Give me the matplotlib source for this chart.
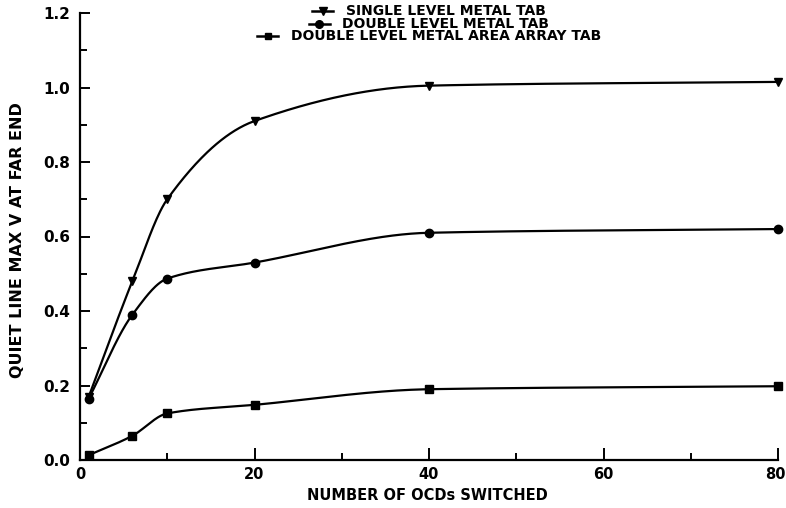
import numpy as np
import matplotlib
matplotlib.use("Agg")
import matplotlib.pyplot as plt
from matplotlib.lines import Line2D
from matplotlib.transforms import ScaledTranslation
from matplotlib.offsetbox import (AnchoredOffsetbox, DrawingArea, HPacker,
                                  TextArea, VPacker)

# Number of OCDs switched and quiet-line peak voltage at the far end
ocds = [1, 6, 10, 20, 40, 80]
single_level = [0.17, 0.48, 0.70, 0.91, 1.005, 1.015]
double_level = [0.165, 0.39, 0.487, 0.53, 0.61, 0.62]
area_array = [0.013, 0.065, 0.125, 0.148, 0.19, 0.198]

series_labels = ["SINGLE LEVEL METAL TAB",
                 "DOUBLE LEVEL METAL TAB",
                 "DOUBLE LEVEL METAL AREA ARRAY TAB"]
series_markers = ["v", "o", "s"]

x_ticks = [0, 20, 40, 60, 80]
y_ticks = [0.0, 0.2, 0.4, 0.6, 0.8, 1.0, 1.2]

FONT = dict(family="DejaVu Sans", weight="bold")


def pchip(x, y, xs):
    """Monotone cubic (Fritsch-Carlson) curve through the measured points."""
    x = np.asarray(x, float)
    y = np.asarray(y, float)
    h = np.diff(x)
    d = np.diff(y) / h
    m = np.zeros_like(y)
    for k in range(1, len(x) - 1):
        if d[k - 1] * d[k] > 0:
            w1 = 2 * h[k] + h[k - 1]
            w2 = h[k] + 2 * h[k - 1]
            m[k] = (w1 + w2) / (w1 / d[k - 1] + w2 / d[k])
    m[0] = d[0]
    m[-1] = d[-1]
    idx = np.clip(np.searchsorted(x, xs) - 1, 0, len(x) - 2)
    t = (xs - x[idx]) / h[idx]
    h00 = 2 * t**3 - 3 * t**2 + 1
    h10 = t**3 - 2 * t**2 + t
    h01 = -2 * t**3 + 3 * t**2
    h11 = t**3 - t**2
    return (h00 * y[idx] + h10 * h[idx] * m[idx]
            + h01 * y[idx + 1] + h11 * h[idx] * m[idx + 1])


fig = plt.figure(figsize=(7.86, 5.08), dpi=100)
ax = fig.add_axes([80 / 786, 48 / 508, 698 / 786, 447 / 508])

xs = np.linspace(ocds[0], ocds[-1], 600)
for vals, mk in zip([single_level, double_level, area_array], series_markers):
    ax.plot(xs, pchip(ocds, vals, xs), color="black", lw=1.6,
            solid_capstyle="round", clip_on=False)
    ax.plot(ocds, vals, linestyle="none", marker=mk, color="black",
            markersize=6 if mk != "s" else 5.5, clip_on=False)

ax.set_xlim(0, 80)
ax.set_ylim(0, 1.2)
for side in ("top", "right"):
    ax.spines[side].set_visible(False)
for side in ("left", "bottom"):
    ax.spines[side].set_linewidth(1.6)

ax.set_xticks(x_ticks)
ax.set_xticks([10, 30, 50, 70], minor=True)
ax.set_yticks(y_ticks)
ax.set_yticks([0.1, 0.3, 0.5, 0.7, 0.9, 1.1], minor=True)
ax.set_xticklabels([str(v) for v in x_ticks], **FONT, fontsize=10.5)
ax.set_yticklabels([f"{v:.1f}" for v in y_ticks], **FONT, fontsize=11)
ax.tick_params(axis="x", which="major", direction="in", length=9,
               width=1.4, pad=5)
ax.tick_params(axis="y", which="major", direction="in", length=7.5,
               width=1.4, pad=7)
ax.tick_params(which="minor", direction="in", length=5.2, width=1.4)

# keep the last x label inside the figure edge
last = ax.get_xticklabels()[-1]
last.set_transform(last.get_transform()
                   + ScaledTranslation(-3 / 100, 0, fig.dpi_scale_trans))

fig.text(427 / 786, 1 - 496 / 508, "NUMBER OF OCDs SWITCHED",
         ha="center", va="center", fontsize=10.5, **FONT)
fig.text(18 / 786, 1 - 240 / 508, "QUIET LINE MAX V AT FAR END",
         ha="center", va="center", rotation=90, fontsize=11.5, **FONT)

# Centred legend rows: short line with marker, then the label
rows = []
for label, mk in zip(series_labels, series_markers):
    da = DrawingArea(15, 8, 0, 0)
    da.add_artist(Line2D([0, 15], [4, 4], color="black", lw=1.8))
    da.add_artist(Line2D([7.5], [4], marker=mk, color="black",
                         markersize=5.5 if mk != "s" else 5))
    ta = TextArea(label, textprops=dict(fontsize=10, color="black", **FONT))
    rows.append(HPacker(children=[da, ta], align="center", pad=0, sep=9))
box = VPacker(children=rows, align="center", pad=0, sep=-1)
anchored = AnchoredOffsetbox(loc="upper center", child=box, pad=0,
                             frameon=False,
                             bbox_to_anchor=(429 / 786, 1 - 4 / 508),
                             bbox_transform=fig.transFigure,
                             borderpad=0)
fig.add_artist(anchored)

fig.savefig("out.png", dpi=100)
